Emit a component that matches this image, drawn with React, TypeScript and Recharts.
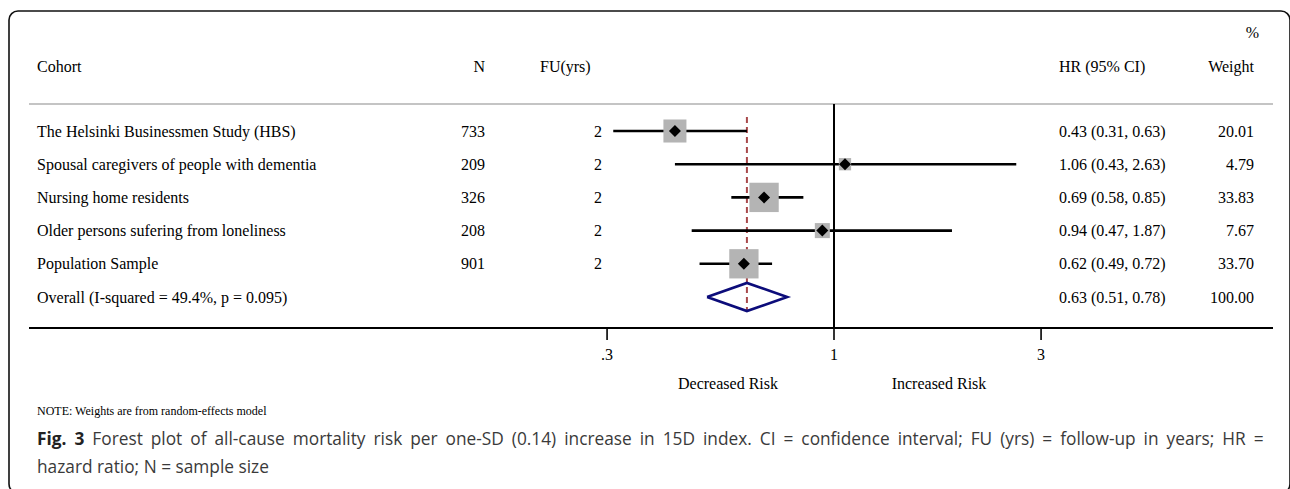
import React from 'react';
import { ComposedChart, Scatter, XAxis, YAxis, ReferenceLine } from 'recharts';

// ---------- data ----------
const cohorts = [
  'The Helsinki Businessmen Study (HBS)',
  'Spousal caregivers of people with dementia',
  'Nursing home residents',
  'Older persons sufering from loneliness',
  'Population Sample',
];
const sampleN = [733, 209, 326, 208, 901];
const followUp = [2, 2, 2, 2, 2];
const hr = [0.43, 1.06, 0.69, 0.94, 0.62];
const ciLow = [0.31, 0.43, 0.58, 0.47, 0.49];
const ciHigh = [0.63, 2.63, 0.85, 1.87, 0.72];
const weights = [20.01, 4.79, 33.83, 7.67, 33.7];

const overallLabel = 'Overall (I-squared = 49.4%, p = 0.095)';
const overallHr = 0.63;
const overallLow = 0.51;
const overallHigh = 0.78;
const overallWeight = 100.0;

const xTicks = [0.3, 1, 3];
const xTickLabels = ['.3', '1', '3'];

// ---------- layout ----------
const W = 1290;
const H = 489;
const PLOT_LEFT = 29;
const PLOT_RIGHT = 1273;
const PLOT_TOP = 104;
const PLOT_BOTTOM = 328;
const X_AT_ONE = 834;
const PX_PER_DECADE = 434;
const ROW0_Y = 131;
const ROW_STEP = 33.2;
const X_AXIS_H = 40;

const xDomain = [
  Math.pow(10, (PLOT_LEFT - X_AT_ONE) / PX_PER_DECADE),
  Math.pow(10, (PLOT_RIGHT - X_AT_ONE) / PX_PER_DECADE),
];
const yTop = (PLOT_TOP - ROW0_Y) / ROW_STEP;
const yBottom = (PLOT_BOTTOM - ROW0_Y) / ROW_STEP;
const rowY = (i: number) => ROW0_Y + ROW_STEP * i;

const SERIF = '"Liberation Serif", "Times New Roman", serif';
const SANS = '"Open Sans", "Noto Sans", sans-serif';
const OVERALL_ROW = cohorts.length;
const DIAMOND_HALF = 14 / ROW_STEP;

const studyPoints = cohorts.map((c, i) => ({ x: hr[i], y: i, w: weights[i] }));
const ciSegments = cohorts.map((c, i) => [
  { x: ciLow[i], y: i },
  { x: ciHigh[i], y: i },
]);
const overallDiamond = [
  { x: overallLow, y: OVERALL_ROW },
  { x: overallHr, y: OVERALL_ROW - DIAMOND_HALF },
  { x: overallHigh, y: OVERALL_ROW },
  { x: overallHr, y: OVERALL_ROW + DIAMOND_HALF },
  { x: overallLow, y: OVERALL_ROW },
];

const NoShape = () => <g />;

const StudyMarker = (props: any) => {
  const { cx, cy, payload } = props;
  const side = 4.7 * Math.sqrt(payload.w) + 2;
  const d = 6;
  return (
    <g>
      <rect x={cx - side / 2} y={cy - side / 2} width={side} height={side} fill="#b4b4b4" />
      <path d={`M${cx - d},${cy} L${cx},${cy - d} L${cx + d},${cy} L${cx},${cy + d} Z`} fill="#000" />
    </g>
  );
};

const fmt2 = (v: number) => v.toFixed(2);

export default function App() {
  const rows = cohorts.map((c, i) => ({
    label: c,
    n: String(sampleN[i]),
    fu: String(followUp[i]),
    ci: `${fmt2(hr[i])} (${fmt2(ciLow[i])}, ${fmt2(ciHigh[i])})`,
    w: fmt2(weights[i]),
  }));
  const txt = { fontFamily: SERIF, fontSize: 16, fill: '#000' } as const;
  return (
    <div style={{ position: 'absolute', left: 0, top: 0, width: W, height: H, background: '#fff' }}>
      <svg width={W} height={H} style={{ position: 'absolute', left: 0, top: 0 }}>
        <rect x={9} y={11} width={1281} height={482} rx={9} ry={9} fill="#fff" stroke="#111" strokeWidth={1.6} />
        {/* header */}
        <text x={37} y={72} {...txt}>Cohort</text>
        <text x={485} y={72} textAnchor="end" {...txt}>N</text>
        <text x={540} y={72} {...txt}>FU(yrs)</text>
        <text x={1059} y={72} {...txt}>HR (95% CI)</text>
        <text x={1254} y={72} textAnchor="end" {...txt}>Weight</text>
        <text x={1259} y={38} textAnchor="end" {...txt}>%</text>
        {/* rows */}
        {rows.map((r, i) => (
          <g key={i}>
            <text x={37} y={rowY(i) + 5.5} {...txt}>{r.label}</text>
            <text x={485} y={rowY(i) + 5.5} textAnchor="end" {...txt}>{r.n}</text>
            <text x={602} y={rowY(i) + 5.5} textAnchor="end" {...txt}>{r.fu}</text>
            <text x={1059} y={rowY(i) + 5.5} {...txt}>{r.ci}</text>
            <text x={1254} y={rowY(i) + 5.5} textAnchor="end" {...txt}>{r.w}</text>
          </g>
        ))}
        <text x={37} y={rowY(OVERALL_ROW) + 5.5} {...txt}>{overallLabel}</text>
        <text x={1059} y={rowY(OVERALL_ROW) + 5.5} {...txt}>
          {`${fmt2(overallHr)} (${fmt2(overallLow)}, ${fmt2(overallHigh)})`}
        </text>
        <text x={1254} y={rowY(OVERALL_ROW) + 5.5} textAnchor="end" {...txt}>{fmt2(overallWeight)}</text>
        {/* axis captions */}
        <text x={728} y={389} textAnchor="middle" {...txt}>Decreased Risk</text>
        <text x={939} y={389} textAnchor="middle" {...txt}>Increased Risk</text>
        <text x={37} y={415} fontFamily={SERIF} fontSize={12} fill="#000">NOTE: Weights are from random-effects model</text>
        {/* figure caption */}
        <text x={37} y={445} fontFamily={SANS} fontSize={17.3} fill="#3a3a3a" wordSpacing={3.5}>
          <tspan fontWeight="bold" fill="#222">Fig. 3</tspan>
          <tspan> Forest plot of all-cause mortality risk per one-SD (0.14) increase in 15D index. CI = confidence interval; FU (yrs) = follow-up in years; HR =</tspan>
        </text>
        <text x={37} y={473} fontFamily={SANS} fontSize={17.3} fill="#3a3a3a">hazard ratio; N = sample size</text>
      </svg>
      <div style={{ position: 'absolute', left: 0, top: 0 }}>
        <ComposedChart
          width={W}
          height={H}
          margin={{ top: PLOT_TOP, right: W - PLOT_RIGHT, left: PLOT_LEFT, bottom: H - PLOT_BOTTOM - X_AXIS_H }}
          style={{ background: 'transparent' }}
        >
          <XAxis
            type="number"
            dataKey="x"
            scale="log"
            domain={xDomain}
            allowDataOverflow
            ticks={xTicks}
            tickFormatter={(v: number) => xTickLabels[xTicks.indexOf(v)] ?? String(v)}
            height={X_AXIS_H}
            axisLine={{ stroke: '#000', strokeWidth: 2 }}
            tickLine={{ stroke: '#000', strokeWidth: 1.6 }}
            tickSize={12}
            tickMargin={9}
            tick={{ fontFamily: SERIF, fontSize: 16, fill: '#000' }}
            interval={0}
          />
          <YAxis type="number" dataKey="y" domain={[yTop, yBottom]} reversed hide width={0} allowDataOverflow />
          <ReferenceLine y={yTop} stroke="#c4c4c4" strokeWidth={2} />
          <ReferenceLine x={1} stroke="#000" strokeWidth={2} />
          {ciSegments.map((seg, i) => (
            <Scatter
              key={`ci${i}`}
              data={seg}
              line={{ stroke: '#000', strokeWidth: 2.6 }}
              lineType="joint"
              shape={NoShape}
              isAnimationActive={false}
            />
          ))}
          <Scatter data={studyPoints} shape={StudyMarker} isAnimationActive={false} />
          <ReferenceLine
            segment={[
              { x: overallHr, y: -0.42 },
              { x: overallHr, y: OVERALL_ROW + 0.45 },
            ]}
            stroke="#a8494b"
            strokeWidth={2}
            strokeDasharray="6 4"
          />
          <Scatter
            data={overallDiamond}
            line={{ stroke: '#0c0c7a', strokeWidth: 2.6, strokeLinejoin: 'miter' }}
            lineType="joint"
            shape={NoShape}
            isAnimationActive={false}
          />
        </ComposedChart>
      </div>
    </div>
  );
}
